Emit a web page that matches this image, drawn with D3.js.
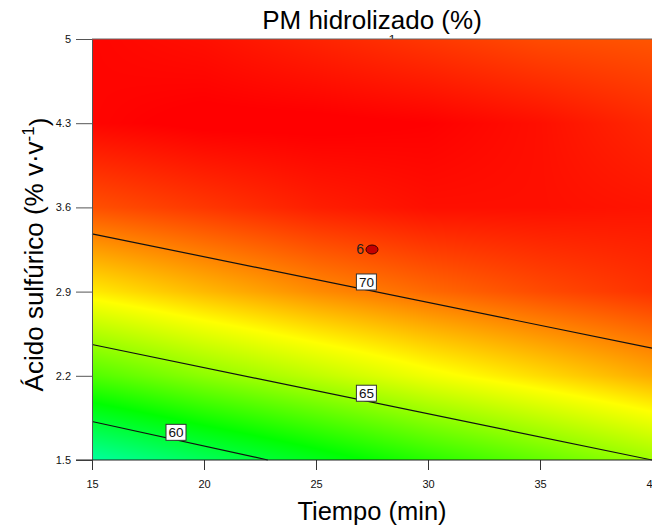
<!DOCTYPE html>
<html>
<head>
<meta charset="utf-8">
<script src="https://cdn.jsdelivr.net/npm/d3@7"></script>
<style>
  body { margin: 0; background: #fff; }
  svg { display: block; font-family: Arial, "Liberation Sans", sans-serif; }
</style>
</head>
<body>
<svg id="chart" width="652" height="529"></svg>
<script>
// Response surface: PM hidrolizado (%) vs Tiempo (min) and Ácido sulfúrico (% v·v-1)
const timeValues = [15, 20, 25, 30, 35, 40];
const acidValues = [1.5, 2.2, 2.9, 3.6, 4.3, 5.0];
const timeTickLabels = ['15', '20', '25', '30', '35', '40'];
const acidTickLabels = ['1.5', '2.2', '2.9', '3.6', '4.3', '5'];

// estimated response, one row per acid level (bottom to top), one value per time
const pmRows = [
  [57.1, 58.9, 60.5, 62.1, 63.5, 64.9],
  [63.1, 64.5, 65.7, 66.9, 67.9, 68.9],
  [67.6, 68.6, 69.5, 70.2, 70.8, 71.3],
  [70.7, 71.2, 71.7, 72.0, 72.0, 71.9],
  [72.2, 72.4, 72.4, 72.3, 72.0, 71.5],
  [72.2, 72.0, 71.6, 71.2, 70.8, 70.6]
];

// contour lines: [time, acid] end points
const contourLevels = [60, 65, 70];
const contourLines = [
  [[15, 1.82], [22.85, 1.5]],
  [[15, 2.46], [40, 1.5]],
  [[15, 3.38], [40, 2.43]]
];
const contourLabelPos = [[18.75, 1.73], [27.25, 2.055], [27.25, 2.98]];

const designPoints = [{ time: 27.5, acid: 3.25, label: '6' }];
const hiddenLabels = [{ time: 28.4, acid: 5.0, label: '1' }];

const margin = { top: 39, right: 0, bottom: 69, left: 92 };
const width = 652 - margin.left - margin.right;
const height = 529 - margin.top - margin.bottom;

const svg = d3.select('#chart');
const g = svg.append('g')
  .attr('transform', `translate(${margin.left},${margin.top})`);

const x = d3.scaleLinear().domain([15, 40]).range([0, width]);
const y = d3.scaleLinear().domain([1.5, 5]).range([height, 0]);

const color = d3.scaleLinear()
  .domain([48, 54.6, 61.2, 67.2, 72.3])
  .range(['#0000ff', '#00ffff', '#00ff00', '#ffff00', '#ff0000'])
  .clamp(true);

// label that sits mostly behind the surface
hiddenLabels.forEach(d => {
  g.append('text')
    .attr('x', x(d.time))
    .attr('y', y(d.acid) + 5)
    .attr('text-anchor', 'middle')
    .style('font-size', '13px')
    .style('fill', '#222')
    .text(d.label);
});

// shade the surface from the grid
function valueAt(t, a) {
  const i = Math.max(0, Math.min(timeValues.length - 2, d3.bisectRight(timeValues, t) - 1));
  const j = Math.max(0, Math.min(acidValues.length - 2, d3.bisectRight(acidValues, a) - 1));
  const ft = (t - timeValues[i]) / (timeValues[i + 1] - timeValues[i]);
  const fa = (a - acidValues[j]) / (acidValues[j + 1] - acidValues[j]);
  const v00 = pmRows[j][i], v10 = pmRows[j][i + 1];
  const v01 = pmRows[j + 1][i], v11 = pmRows[j + 1][i + 1];
  return (v00 * (1 - ft) + v10 * ft) * (1 - fa) + (v01 * (1 - ft) + v11 * ft) * fa;
}

const canvas = document.createElement('canvas');
canvas.width = width;
canvas.height = height;
const ctx = canvas.getContext('2d');
const img = ctx.createImageData(width, height);
for (let py = 0; py < height; py++) {
  const a = y.invert(py + 0.5);
  for (let px = 0; px < width; px++) {
    const c = d3.rgb(color(valueAt(x.invert(px + 0.5), a)));
    const k = (py * width + px) * 4;
    img.data[k] = c.r;
    img.data[k + 1] = c.g;
    img.data[k + 2] = c.b;
    img.data[k + 3] = 255;
  }
}
ctx.putImageData(img, 0, 0);

g.append('image')
  .attr('x', 0)
  .attr('y', 0)
  .attr('width', width)
  .attr('height', height)
  .attr('preserveAspectRatio', 'none')
  .attr('href', canvas.toDataURL());

// contour lines
const line = d3.line().x(d => x(d[0])).y(d => y(d[1]));
g.selectAll('.contour')
  .data(contourLines)
  .enter()
  .append('path')
  .attr('class', 'contour')
  .attr('d', line)
  .attr('fill', 'none')
  .attr('stroke', '#111')
  .attr('stroke-width', 1.2);

const labels = g.selectAll('.clabel')
  .data(contourLevels)
  .enter()
  .append('g')
  .attr('class', 'clabel')
  .attr('transform', (d, i) => `translate(${x(contourLabelPos[i][0])},${y(contourLabelPos[i][1])})`);

labels.append('rect')
  .attr('x', -10)
  .attr('y', -8)
  .attr('width', 20)
  .attr('height', 16)
  .attr('fill', '#fff')
  .attr('stroke', '#333')
  .attr('stroke-width', 1);

labels.append('text')
  .attr('text-anchor', 'middle')
  .attr('dy', '0.36em')
  .style('font-size', '13.5px')
  .style('fill', '#111')
  .text(d => d);

// design point
designPoints.forEach(d => {
  g.append('ellipse')
    .attr('cx', x(d.time))
    .attr('cy', y(d.acid))
    .attr('rx', 6)
    .attr('ry', 4.5)
    .attr('fill', '#c40000')
    .attr('stroke', '#3a0000')
    .attr('stroke-width', 1);
  g.append('text')
    .attr('x', x(d.time) - 8)
    .attr('y', y(d.acid) - 1)
    .attr('dy', '0.36em')
    .attr('text-anchor', 'end')
    .style('font-size', '14px')
    .style('fill', '#222')
    .text(d.label);
});

// axes
const xAxis = g.append('g')
  .attr('transform', `translate(0,${height})`)
  .call(d3.axisBottom(x)
    .tickValues(timeValues)
    .tickFormat((d, i) => timeTickLabels[i])
    .tickSize(10)
    .tickSizeOuter(0)
    .tickPadding(10));
xAxis.select('.domain').remove();
xAxis.selectAll('line').attr('stroke', '#333');
xAxis.selectAll('text').style('font-size', '11px').style('fill', '#111');

const yAxis = g.append('g')
  .call(d3.axisLeft(y)
    .tickValues(acidValues)
    .tickFormat((d, i) => acidTickLabels[i])
    .tickSize(16)
    .tickSizeOuter(0)
    .tickPadding(5));
yAxis.select('.domain').attr('stroke', '#555');
yAxis.selectAll('line').attr('stroke', '#555');
yAxis.selectAll('text').style('font-size', '11px').style('fill', '#111');

// frame lines
g.append('line')
  .attr('x1', 0).attr('x2', width)
  .attr('y1', 0).attr('y2', 0)
  .attr('stroke', '#666');
g.append('line')
  .attr('x1', -16).attr('x2', width)
  .attr('y1', height).attr('y2', height)
  .attr('stroke', '#222')
  .attr('stroke-width', 1.2);

// titles
svg.append('text')
  .attr('x', margin.left + width / 2)
  .attr('y', 29)
  .attr('text-anchor', 'middle')
  .style('font-size', '26px')
  .style('fill', '#000')
  .text('PM hidrolizado (%)');

svg.append('text')
  .attr('x', margin.left + width / 2)
  .attr('y', 520)
  .attr('text-anchor', 'middle')
  .style('font-size', '25.5px')
  .style('fill', '#000')
  .text('Tiempo (min)');

const yLabel = svg.append('text')
  .attr('transform', `translate(43,${margin.top + height / 2 + 5}) rotate(-90)`)
  .attr('text-anchor', 'middle')
  .style('font-size', '26px')
  .style('fill', '#000');
yLabel.append('tspan').text('Ácido sulfúrico (% v·v');
yLabel.append('tspan')
  .attr('dy', '-0.55em')
  .style('font-size', '17px')
  .text('-1');
yLabel.append('tspan')
  .attr('dy', '0.55em')
  .text(')');
</script>
</body>
</html>
